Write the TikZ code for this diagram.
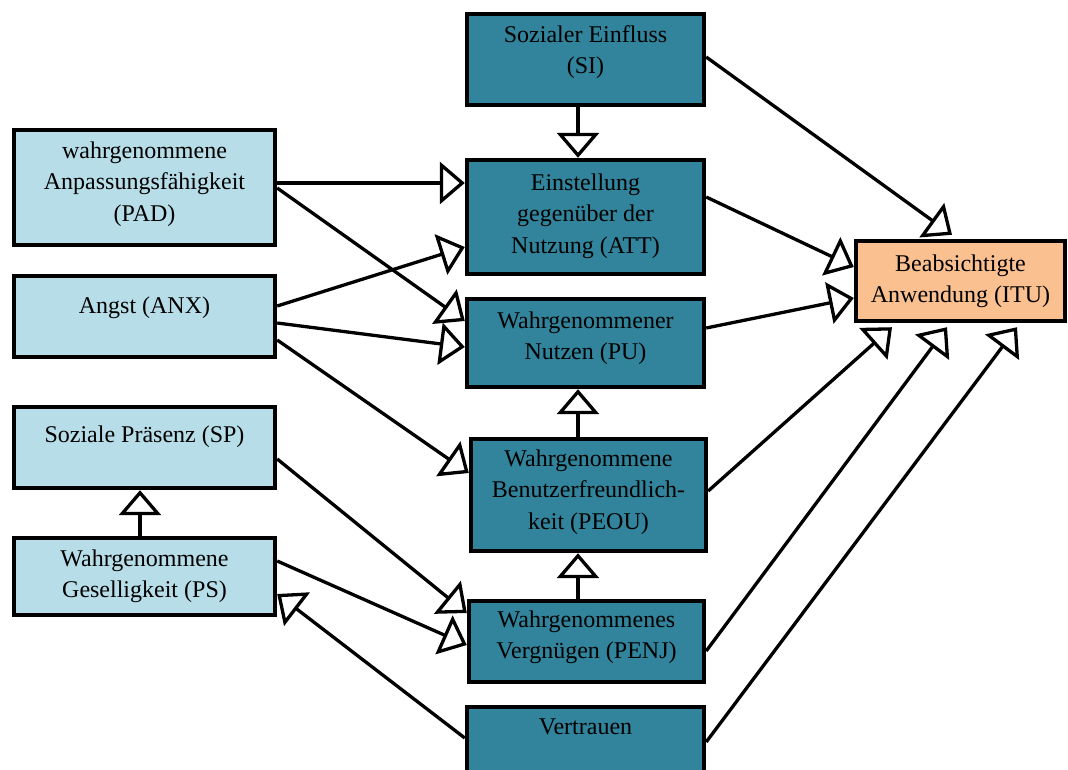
\documentclass[tikz,border=0pt]{standalone}
\usepackage{fontspec}
\setmainfont{Liberation Serif}
\usetikzlibrary{arrows.meta}
\definecolor{teal1}{HTML}{31849B}
\definecolor{lblue}{HTML}{B7DEE8}
\definecolor{lorange}{HTML}{FAC090}
\tikzset{
  box/.style={draw=black, line width=4.4pt, rectangle, inner sep=0pt},
  cbox/.style={box, fill=teal1},
  lbox/.style={box, fill=lblue},
  obox/.style={box, fill=lorange},
  txt/.style={anchor=north, align=center, inner sep=0pt, text=black,
              font=\fontsize{24}{31.5}\selectfont},
  arr/.style={draw=black, line width=3.3pt, line join=miter,
              -{Triangle[open, length=25pt, width=42pt]}}
}
\begin{document}
\begin{tikzpicture}[x=1pt, y=-1pt]
\useasboundingbox (0,0) rectangle (1068,769);
\clip (0,0) rectangle (1068,769);
\fill[white] (0,0) rectangle (1068,769);

% left column
\node[lbox, minimum width=261pt, minimum height=115pt] (pad) at (144.5,187.5) {};
\node[lbox, minimum width=261pt, minimum height=81pt]  (anx) at (144.5,316.5) {};
\node[lbox, minimum width=261pt, minimum height=81pt]  (sp)  at (144.5,447.5) {};
\node[lbox, minimum width=261pt, minimum height=77pt]  (ps)  at (144.5,576.5) {};
% center column
\node[cbox, minimum width=237pt, minimum height=91pt]  (si)  at (585.5,59.5) {};
\node[cbox, minimum width=237pt, minimum height=114pt] (att) at (585.5,217) {};
\node[cbox, minimum width=237pt, minimum height=88pt]  (pu)  at (585.5,343) {};
\node[cbox, minimum width=235pt, minimum height=112pt] (peou) at (588.5,495) {};
\node[cbox, minimum width=235pt, minimum height=81pt]  (penj) at (586.5,641.5) {};
\node[cbox, minimum width=237pt, minimum height=83pt]  (vt)  at (585.5,748.5) {};
% target
\node[obox, minimum width=209pt, minimum height=80pt]  (itu) at (960.5,281) {};

% texts
\node[txt] (pad-t)  at (144.5,136) {\strut wahrgenommene\\Anpassungsfähigkeit\\(PAD)};
\node[txt] (anx-t)  at (144.5,291) {\strut Angst (ANX)};
\node[txt] (sp-t)   at (144.5,420) {\strut Soziale Präsenz (SP)};
\node[txt] (ps-t)   at (144.5,544) {\strut Wahrgenommene\\Geselligkeit (PS)};
\node[txt] (si-t)   at (585.5,20) {\strut Sozialer Einfluss\\(SI)};
\node[txt] (att-t)  at (585.5,168) {\strut Einstellung\\gegenüber der\\Nutzung (ATT)};
\node[txt] (pu-t)   at (585.5,306) {\strut Wahrgenommener\\Nutzen (PU)};
\node[txt] (peou-t) at (588.5,444) {\strut Wahrgenommene\\Benutzerfreundlich-\\keit (PEOU)};
\node[txt] (penj-t) at (586.5,605) {\strut Wahrgenommenes\\Vergnügen (PENJ)};
\node[txt] (vt-t)   at (585.5,712) {\strut Vertrauen};
\node[txt] (itu-t)  at (960.5,249) {\strut Beabsichtigte\\Anwendung (ITU)};

% connectors
\draw[arr] ([xshift=-7.5pt]si.south) -- ([xshift=-7.5pt]att.north);
\draw[arr] ([yshift=2.5pt]si.east) -- ([xshift=-8.5pt,yshift=4pt]itu.north);
\draw[arr] ([yshift=4.5pt]pad.east) -- ([yshift=34pt]att.west);
\draw[arr] ([yshift=-0.5pt]pad.east) -- ([yshift=22pt]pu.west);
\draw[arr] ([yshift=10.5pt]anx.east) -- ([yshift=-30pt]att.west);
\draw[arr] ([yshift=-6.5pt]anx.east) -- ([yshift=-4pt]pu.west);
\draw[arr] ([yshift=-23.5pt]anx.east) -- ([yshift=22pt]peou.west);
\draw[arr] ([yshift=20pt]att.east) -- ([yshift=14pt]itu.west);
\draw[arr] ([yshift=15pt]pu.east) -- ([yshift=-17pt]itu.west);
\draw[arr] ([xshift=-10.5pt]peou.north) -- ([xshift=-7.5pt]pu.south);
\draw[arr] ([xshift=-8.5pt]penj.north) -- ([xshift=-10.5pt]peou.south);
\draw[arr] ([yshift=4pt]peou.east) -- ([xshift=-68.5pt,yshift=-4pt]itu.south);
\draw[arr] ([yshift=-9.5pt]penj.east) -- ([xshift=-13.5pt,yshift=-4pt]itu.south);
\draw[arr] ([yshift=6.5pt]vt.east) -- ([xshift=56.5pt,yshift=-4pt]itu.south);
\draw[arr] ([yshift=-11.5pt]sp.east) -- ([yshift=28.5pt]penj.west);
\draw[arr] ([yshift=15.5pt]ps.east) -- ([yshift=-3.5pt]penj.west);
\draw[arr] ([yshift=10.5pt]vt.west) -- ([yshift=-17.5pt]ps.east);
\draw[arr] ([xshift=-4.5pt]ps.north) -- ([xshift=-4.5pt]sp.south);
\end{tikzpicture}
\end{document}
